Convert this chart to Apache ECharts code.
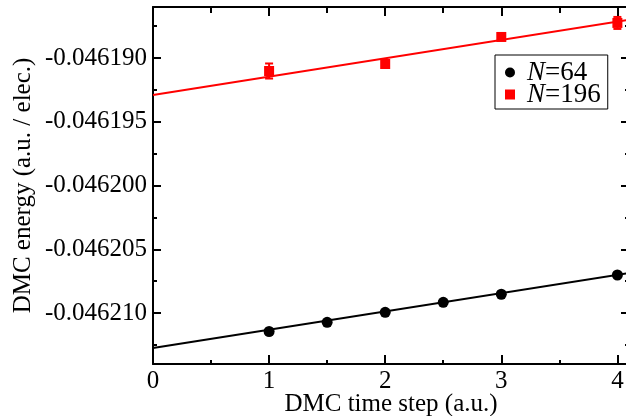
<!DOCTYPE html>
<html>
<head>
<meta charset="utf-8">
<script src="https://cdn.jsdelivr.net/npm/echarts@6/dist/echarts.min.js"></script>
<style>
  html, body { margin: 0; padding: 0; background: #fff; }
  #main { width: 626px; height: 416px; }
</style>
</head>
<body>
<div id="main"></div>
<script>
// data
var steps64 = [1, 1.5, 2, 2.5, 3, 4];
var energy64 = [-0.04621145, -0.04621073, -0.04620995, -0.04620916, -0.04620853, -0.04620702];

var steps196 = [1, 2, 3, 4];
var energy196 = [-0.04619102, -0.04619047, -0.04618835, -0.04618725];
var err196 = [0.00000059, 0.00000024, 0.00000024, 0.00000047];

var fitX = [0, 4.1];
var fit64 = [-0.04621275, -0.04620686];
var fit196 = [-0.0461929, -0.04618701];

var xMajor = [0, 1, 2, 3, 4];
var xMinor = [0.5, 1.5, 2.5, 3.5];
var yMajor = [-0.046210, -0.046205, -0.046200, -0.046195, -0.046190];
var yMinor = [-0.0462125, -0.0462075, -0.0462025, -0.0461975, -0.0461925, -0.0461875];

var FONT = '"Liberation Serif", "DejaVu Serif", serif';

function pairs(xs, ys) {
    return xs.map(function (x, i) { return [x, ys[i]]; });
}

function xAx(pos, ticks, len, line, labels) {
    return {
        type: 'value', position: pos, min: 0, max: 4.1,
        splitLine: { show: false },
        axisLine: { show: line, onZero: false, lineStyle: { color: '#000', width: 2 } },
        axisTick: { show: true, inside: true, length: len, customValues: ticks, lineStyle: { color: '#000', width: 2 } },
        axisLabel: labels ? {
            show: true, customValues: xMajor, color: '#000', fontFamily: FONT, fontSize: 25, margin: 5
        } : { show: false },
        name: labels ? 'DMC time step (a.u.)' : '',
        nameLocation: 'middle', nameGap: 28, nameMoveOverlap: false,
        nameTextStyle: { color: '#000', fontFamily: FONT, fontSize: 25 }
    };
}

function yAx(pos, ticks, len, line, labels) {
    return {
        type: 'value', position: pos, min: -0.046214, max: -0.046186,
        splitLine: { show: false },
        axisLine: { show: line, onZero: false, lineStyle: { color: '#000', width: 2 } },
        axisTick: { show: true, inside: true, length: len, customValues: ticks, lineStyle: { color: '#000', width: 2 } },
        axisLabel: labels ? {
            show: true, customValues: yMajor, color: '#000', fontFamily: FONT, fontSize: 25, margin: 6,
            formatter: function (v) { return v.toFixed(6); }
        } : { show: false },
        name: labels ? 'DMC energy (a.u. / elec.)' : '',
        nameLocation: 'middle', nameGap: 117, nameRotate: 90, nameMoveOverlap: false,
        nameTextStyle: { color: '#000', fontFamily: FONT, fontSize: 25 }
    };
}

var errData = steps196.map(function (x, i) {
    return [x, energy196[i] - err196[i], energy196[i] + err196[i]];
});

var myChart = echarts.init(document.getElementById('main'));
var option = {
    animation: false,
    backgroundColor: '#fff',
    grid: { left: 153, top: 7, width: 476, height: 357, outerBoundsMode: 'none', containLabel: false },
    legend: {
        data: [
            { name: 'N=64', icon: 'circle' },
            { name: 'N=196', icon: 'path://M0,0h10v10h-10z' }
        ],
        orient: 'vertical',
        left: 495, top: 55,
        padding: [4, 7, 1, 10],
        itemGap: -5,
        itemWidth: 24, itemHeight: 10,
        symbolKeepAspect: true,
        borderColor: '#000', borderWidth: 1,
        backgroundColor: '#fff',
        formatter: function (name) { return '{i|N}' + name.slice(1); },
        textStyle: {
            color: '#000', fontFamily: FONT, fontSize: 27,
            rich: { i: { fontStyle: 'italic', fontFamily: FONT, fontSize: 27, color: '#000' } }
        }
    },
    xAxis: [
        xAx('bottom', xMajor, 9, true, true),
        xAx('bottom', xMinor, 4, false, false),
        xAx('top', xMajor, 9, true, false),
        xAx('top', xMinor, 6, false, false)
    ],
    yAxis: [
        yAx('left', yMajor, 8, true, true),
        yAx('left', yMinor, 4, false, false),
        yAx('right', yMajor, 8, true, false),
        yAx('right', yMinor, 4, false, false)
    ],
    series: [
        {
            name: 'fit64', type: 'line', data: pairs(fitX, fit64),
            showSymbol: false, silent: true,
            lineStyle: { color: '#000', width: 2 }
        },
        {
            name: 'fit196', type: 'line', data: pairs(fitX, fit196),
            showSymbol: false, silent: true,
            lineStyle: { color: '#ff0000', width: 2 }
        },
        {
            name: 'err196', type: 'custom', data: errData,
            encode: { x: 0, y: [1, 2] },
            renderItem: function (params, api) {
                var lo = api.coord([api.value(0), api.value(1)]);
                var hi = api.coord([api.value(0), api.value(2)]);
                var w = 4;
                var st = { stroke: '#ff0000', lineWidth: 2 };
                return {
                    type: 'group',
                    children: [
                        { type: 'line', shape: { x1: lo[0], y1: lo[1], x2: hi[0], y2: hi[1] }, style: st },
                        { type: 'line', shape: { x1: lo[0] - w, y1: lo[1], x2: lo[0] + w, y2: lo[1] }, style: st },
                        { type: 'line', shape: { x1: hi[0] - w, y1: hi[1], x2: hi[0] + w, y2: hi[1] }, style: st }
                    ]
                };
            }
        },
        {
            name: 'N=64', type: 'scatter', data: pairs(steps64, energy64),
            symbol: 'circle', symbolSize: 11,
            itemStyle: { color: '#000', opacity: 1 }
        },
        {
            name: 'N=196', type: 'scatter', data: pairs(steps196, energy196),
            symbol: 'rect', symbolSize: 10,
            itemStyle: { color: '#ff0000', opacity: 1 }
        }
    ]
};
myChart.setOption(option);
</script>
</body>
</html>
